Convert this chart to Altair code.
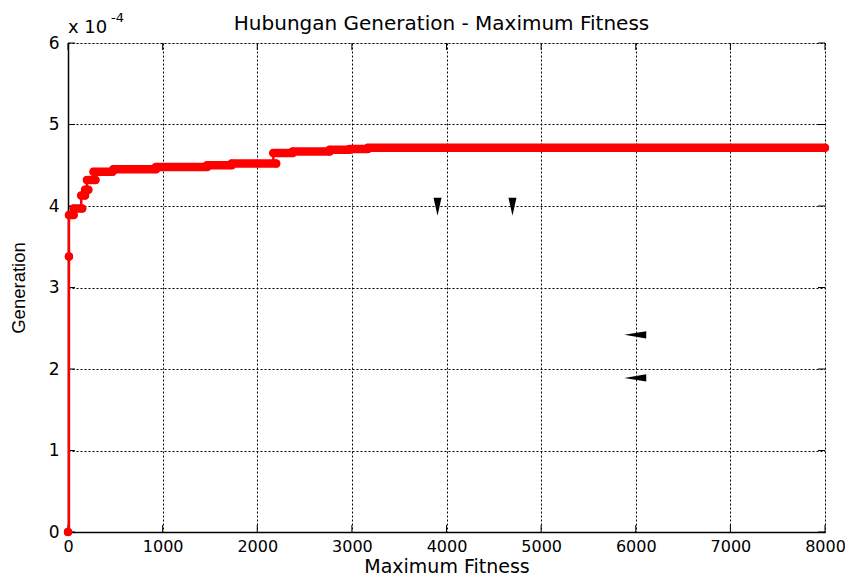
import altair as alt
import pandas as pd

# --- data (generation values in units of 1e-4) ---
seg_start = [0, 10, 10, 60, 140, 180, 200, 270, 480, 930, 1470, 1730, 2170, 2375, 2765, 2975, 3170]
seg_end   = [0, 10, 60, 150, 180, 215, 290, 470, 930, 1470, 1730, 2200, 2375, 2765, 2975, 3170, 8000]
seg_val   = [0, 3.38, 3.89, 3.97, 4.13, 4.20, 4.32, 4.42, 4.45, 4.48, 4.50, 4.52, 4.65, 4.67, 4.69, 4.70, 4.715]

down_x = [3905, 4697]
down_y = [3.99, 3.99]
left_x = [5995, 5995]
left_y = [2.42, 1.89]

x_ticks = [0, 1000, 2000, 3000, 4000, 5000, 6000, 7000, 8000]
y_ticks = [0, 1, 2, 3, 4, 5, 6]

TITLE = "Hubungan Generation - Maximum Fitness"

W, H = 757, 489
FONT = "DejaVu Sans"

seg = pd.DataFrame({"x": seg_start, "x2": seg_end, "y": seg_val})
line_df = pd.DataFrame({"x": [10] + seg_start[1:], "y": [0] + seg_val[1:]})
pts = pd.DataFrame({"x": seg_start + seg_end, "y": seg_val + seg_val})
down_df = pd.DataFrame({"x": down_x, "y": down_y})
left_df = pd.DataFrame({"x": left_x, "y": left_y})
xt = pd.DataFrame({"t": x_ticks})
yt = pd.DataFrame({"t": y_ticks})

xs = alt.Scale(domain=[0, 8000], nice=False, zero=False)
ys = alt.Scale(domain=[0, 6], nice=False, zero=False)

xaxis = alt.Axis(values=x_ticks, format="d", title="Maximum Fitness", grid=True,
                 gridColor="black", gridDash=[2, 2], gridWidth=1, gridOpacity=1,
                 ticks=False, labelPadding=6, labelFont=FONT, labelFontSize=16,
                 labelColor="black", titleFont=FONT, titleFontSize=19,
                 titleFontWeight="normal", titleColor="black", titlePadding=3,
                 domainColor="black", domainWidth=1.5, labelFlush=False)
yaxis = alt.Axis(values=y_ticks, format="d", title="Generation", grid=True,
                 gridColor="black", gridDash=[2, 2], gridWidth=1, gridOpacity=1,
                 ticks=False, labelPadding=9, labelFont=FONT, labelFontSize=17,
                 labelColor="black", titleFont="Liberation Sans", titleFontSize=18.5,
                 titleFontWeight="normal", titleColor="black", titlePadding=20,
                 domainColor="black", domainWidth=1.5, labelFlush=False)

base_axes = alt.Chart(xt).mark_point(opacity=0).encode(
    x=alt.X("t:Q", scale=xs, axis=xaxis),
    y=alt.Y("t:Q", scale=ys, axis=yaxis),
)

tick_bottom = alt.Chart(xt).mark_rule(color="black", strokeWidth=1).encode(
    x=alt.X("t:Q", scale=xs), y=alt.value(H), y2=alt.value(H - 7))
tick_top = alt.Chart(xt).mark_rule(color="black", strokeWidth=1).encode(
    x=alt.X("t:Q", scale=xs), y=alt.value(0), y2=alt.value(7))
tick_left = alt.Chart(yt).mark_rule(color="black", strokeWidth=1).encode(
    y=alt.Y("t:Q", scale=ys), x=alt.value(0), x2=alt.value(7))
tick_right = alt.Chart(yt).mark_rule(color="black", strokeWidth=1).encode(
    y=alt.Y("t:Q", scale=ys), x=alt.value(W), x2=alt.value(W - 7))

thin = alt.Chart(line_df).mark_line(color="#ff0000", strokeWidth=2.5,
                                    interpolate="step-after", clip=False).encode(
    x=alt.X("x:Q", scale=xs), y=alt.Y("y:Q", scale=ys))
thick = alt.Chart(seg).mark_rule(color="#ff0000", strokeWidth=8.5, strokeCap="round").encode(
    x=alt.X("x:Q", scale=xs), x2="x2:Q", y=alt.Y("y:Q", scale=ys))
dots = alt.Chart(pts).mark_circle(color="#ff0000", opacity=1, size=64).encode(
    x=alt.X("x:Q", scale=xs), y=alt.Y("y:Q", scale=ys))

tri_down = alt.Chart(down_df).mark_point(
    shape="M-0.4,-0.9L0.4,-0.9L0,0.9Z", size=400, filled=True, color="black", opacity=1
).encode(x=alt.X("x:Q", scale=xs), y=alt.Y("y:Q", scale=ys))
tri_left = alt.Chart(left_df).mark_point(
    shape="M-1,0L1,-0.33L1,0.33Z", size=484, filled=True, color="black", opacity=1
).encode(x=alt.X("x:Q", scale=xs), y=alt.Y("y:Q", scale=ys))

title_txt = alt.Chart(pd.DataFrame({"s": [TITLE]})).mark_text(
    align="center", baseline="alphabetic", font=FONT, fontSize=20, color="black"
).encode(text="s:N", x=alt.value(W / 2 - 5), y=alt.value(-13))
mult = alt.Chart(pd.DataFrame({"s": ["x 10"]})).mark_text(
    align="left", baseline="alphabetic", font=FONT, fontSize=18, color="black"
).encode(text="s:N", x=alt.value(0), y=alt.value(-10))
expo = alt.Chart(pd.DataFrame({"s": ["-4"]})).mark_text(
    align="left", baseline="alphabetic", font=FONT, fontSize=13, color="black"
).encode(text="s:N", x=alt.value(43), y=alt.value(-21))

chart = alt.layer(
    base_axes, tick_bottom, tick_top, tick_left, tick_right,
    thin, thick, dots, tri_down, tri_left, title_txt, mult, expo
).properties(
    width=W, height=H,
    autosize=alt.AutoSizeParams(type="none"),
    padding={"left": 60, "top": 35, "right": 20, "bottom": 47},
).configure_view(stroke="black", strokeWidth=1.5).configure(background="white")

chart.save("out.html", embed_options={"renderer": "svg", "actions": False})
